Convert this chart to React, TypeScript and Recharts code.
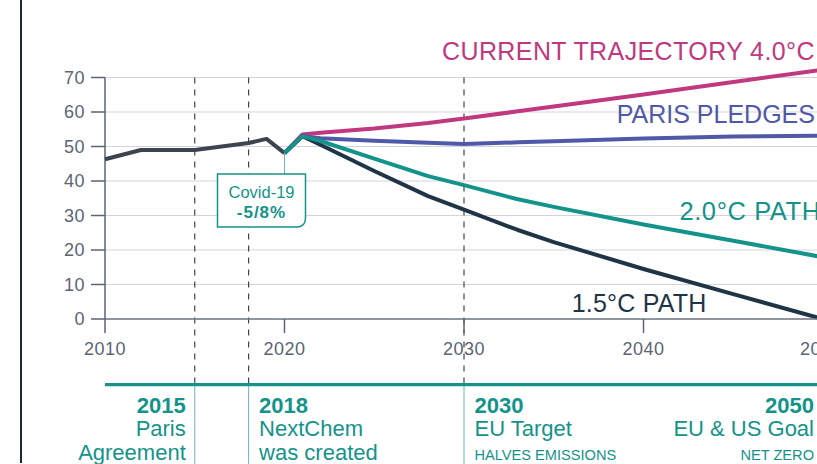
import React from "react";
import { LineChart, Line, XAxis, YAxis, ReferenceLine, ReferenceDot } from "recharts";

// emissions, Gt CO2e
const years = [2010, 2012, 2015, 2018, 2019, 2020, 2021, 2022, 2025, 2028, 2030, 2033, 2035, 2040, 2045, 2050];
const historical = [46.3, 49, 49, 51, 52.2, 48.1, null, null, null, null, null, null, null, null, null, null];
const currentTrajectory = [null, null, null, null, null, 48.1, 53.5, 54, 55.2, 56.8, 58.1, 60.2, 61.6, 65.1, 68.7, 72.3];
const parisPledges = [null, null, null, null, null, 48.1, 53, 52.4, 51.7, 51.1, 50.7, 51.2, 51.5, 52.3, 52.9, 53.1];
const path20 = [null, null, null, null, null, 48.1, 53, 51.6, 46.5, 41.4, 38.8, 34.7, 32.5, 27.4, 22.7, 17.9];
const path15 = [null, null, null, null, null, 48.1, 53, 50.5, 42.9, 35.6, 31.7, 25.8, 22.3, 14.5, 7.2, 0];

const yTicks = [0, 10, 20, 30, 40, 50, 60, 70];
const xTicks = [2010, 2020, 2030, 2040, 2050];
const dashedYears = [2015, 2018, 2030];

const eventYears = [2015, 2018, 2030, 2050];
const eventTitles = ["2015", "2018", "2030", "2050"];
const eventLines = [["Paris", "Agreement"], ["NextChem", "was created"], ["EU Target"], ["EU & US Goal"]];
const eventNotes = ["", "", "HALVES EMISSIONS", "NET ZERO"];

const covidYear = 2020;
const covidValue = 48.1;
const covidText = ["Covid-19", "-5/8%"];

const data = years.map((year, i) => ({
  year,
  historical: historical[i],
  current: currentTrajectory[i],
  paris: parisPledges[i],
  p20: path20[i],
  p15: path15[i],
}));

const TEAL = "#13938a";
const TEAL_LIGHT = "#6bb8b2";
const MAGENTA = "#c0387f";
const PURPLE = "#5058a8";
const DARK = "#1f3446";
const HIST = "#3d4450";
const AXIS = "#5b6474";
const FONT = "'Liberation Sans', Arial, sans-serif";

const TIMELINE_Y = -19;
const BOTTOM_Y = -42;

const seriesLabels = [
  { text: "CURRENT TRAJECTORY 4.0°C", x: 2049.55, y: 75, color: MAGENTA, anchor: "end", size: 25, spacing: 0.4 },
  { text: "PARIS PLEDGES", x: 2049.55, y: 56.7, color: PURPLE, anchor: "end", size: 25, spacing: 0 },
  { text: "2.0°C PATH", x: 2042, y: 28.7, color: TEAL, anchor: "start", size: 25.5, spacing: 0.6 },
  { text: "1.5°C PATH", x: 2036, y: 1.9, color: DARK, anchor: "start", size: 25, spacing: 0.2 },
];

const CovidBox = (props: any) => {
  const { cx, cy } = props;
  const top = cy + 21;
  const bottom = cy + 74;
  const left = cx - 67;
  const right = cx + 21;
  const r = 9;
  const d = `M${left},${top} H${right} V${bottom - r} Q${right},${bottom} ${right - r},${bottom} H${left} Z`;
  const mid = (left + right) / 2;
  return (
    <g>
      <line x1={cx} y1={cy} x2={cx} y2={top} stroke={TEAL_LIGHT} strokeWidth={1} />
      <path d={d} fill="#fff" stroke={TEAL} strokeWidth={1.5} />
      <text x={mid} y={cy + 44.5} textAnchor="middle" fill={TEAL} fontSize={16.5} fontFamily={FONT}>
        {covidText[0]}
      </text>
      <text x={mid} y={cy + 64.5} textAnchor="middle" fill={TEAL} fontSize={17} fontWeight={700} letterSpacing={1} fontFamily={FONT}>
        {covidText[1]}
      </text>
    </g>
  );
};

const makeEvent = (i: number) => (props: any) => {
  const { cx, cy } = props;
  const end = i === 0 || i === 3;
  const tx = end ? cx - 9 : cx + 10.5;
  const anchor = end ? "end" : "start";
  const lines = eventLines[i];
  return (
    <g fontFamily={FONT} fill={TEAL}>
      <text x={tx} y={cy + 28} textAnchor={anchor} fontSize={22} fontWeight={700}>
        {eventTitles[i]}
      </text>
      {lines.map((l, j) => (
        <text key={j} x={tx} y={cy + 51.5 + j * 24} textAnchor={anchor} fontSize={22}>
          {l}
        </text>
      ))}
      {eventNotes[i] && (
        <text x={tx} y={cy + 75.5} textAnchor={anchor} fontSize={14.6}>
          {eventNotes[i]}
        </text>
      )}
    </g>
  );
};

const makeLabel = (i: number) => (props: any) => {
  const s = seriesLabels[i];
  return (
    <text
      x={props.cx}
      y={props.cy}
      textAnchor={s.anchor as any}
      fill={s.color}
      fontSize={s.size}
      letterSpacing={s.spacing}
      fontFamily={FONT}
    >
      {s.text}
    </text>
  );
};

export default function App() {
  return (
    <div style={{ position: "fixed", left: 0, top: 0, width: 817, height: 464, overflow: "hidden", background: "#fff" }}>
      <div style={{ position: "absolute", left: 20, top: 0, width: 1.5, height: 463, background: "#1c2733" }} />
      <LineChart
        width={840}
        height={464}
        data={data}
        margin={{ top: 43, right: 17, bottom: 115, left: 45 }}
        style={{ fontFamily: FONT }}
      >
        {yTicks.slice(1).map((v) => (
          <ReferenceLine key={"g" + v} y={v} stroke="#d3d3de" strokeWidth={1.2} ifOverflow="visible" />
        ))}
        <XAxis
          dataKey="year"
          type="number"
          domain={[2010, 2050]}
          ticks={xTicks}
          height={30}
          tickSize={14}
          tickMargin={9}
          stroke={AXIS}
          tick={{ fill: AXIS, fontSize: 18, letterSpacing: 0.5 }}
          axisLine={{ stroke: "#6b7280", strokeWidth: 1.5 }}
          tickLine={{ stroke: AXIS, strokeWidth: 1.5 }}
        />
        <YAxis
          type="number"
          domain={[0, 80]}
          ticks={yTicks}
          width={60}
          tickSize={14}
          tickMargin={6}
          axisLine={false}
          tick={{ fill: AXIS, fontSize: 18, letterSpacing: 0.5 }}
          tickLine={{ stroke: AXIS, strokeWidth: 1.5 }}
        />
        <ReferenceLine
          segment={[{ x: 2010, y: 70 }, { x: 2010, y: 0 }]}
          stroke={AXIS}
          strokeWidth={1.5}
          ifOverflow="visible"
        />
        {dashedYears.map((yr) => (
          <ReferenceLine
            key={"d" + yr}
            segment={[{ x: yr, y: 70 }, { x: yr, y: TIMELINE_Y }]}
            stroke={HIST}
            strokeWidth={1.2}
            strokeDasharray="6 6"
            ifOverflow="visible"
          />
        ))}
        {dashedYears.map((yr) => (
          <ReferenceLine
            key={"t" + yr}
            segment={[{ x: yr, y: TIMELINE_Y }, { x: yr, y: BOTTOM_Y }]}
            stroke={TEAL_LIGHT}
            strokeWidth={1}
            ifOverflow="visible"
          />
        ))}
        <ReferenceLine
          segment={[{ x: 2010, y: TIMELINE_Y }, { x: 2050, y: TIMELINE_Y }]}
          stroke={TEAL}
          strokeWidth={3.2}
          ifOverflow="visible"
        />
        <Line dataKey="historical" stroke={HIST} strokeWidth={4} dot={false} isAnimationActive={false} connectNulls strokeLinejoin="round" />
        <Line dataKey="current" stroke={MAGENTA} strokeWidth={4} dot={false} isAnimationActive={false} connectNulls strokeLinejoin="round" />
        <Line dataKey="paris" stroke={PURPLE} strokeWidth={4} dot={false} isAnimationActive={false} connectNulls strokeLinejoin="round" />
        <Line dataKey="p15" stroke={DARK} strokeWidth={4} dot={false} isAnimationActive={false} connectNulls strokeLinejoin="round" />
        <Line dataKey="p20" stroke={TEAL} strokeWidth={4} dot={false} isAnimationActive={false} connectNulls strokeLinejoin="round" />
        <ReferenceDot x={covidYear} y={covidValue} r={0} ifOverflow="visible" shape={CovidBox} />
        {eventYears.map((yr, i) => (
          <ReferenceDot key={"e" + yr} x={yr} y={TIMELINE_Y} r={0} ifOverflow="visible" shape={makeEvent(i)} />
        ))}
        {seriesLabels.map((s, i) => (
          <ReferenceDot key={"l" + i} x={s.x} y={s.y} r={0} ifOverflow="visible" shape={makeLabel(i)} />
        ))}
      </LineChart>
    </div>
  );
}
